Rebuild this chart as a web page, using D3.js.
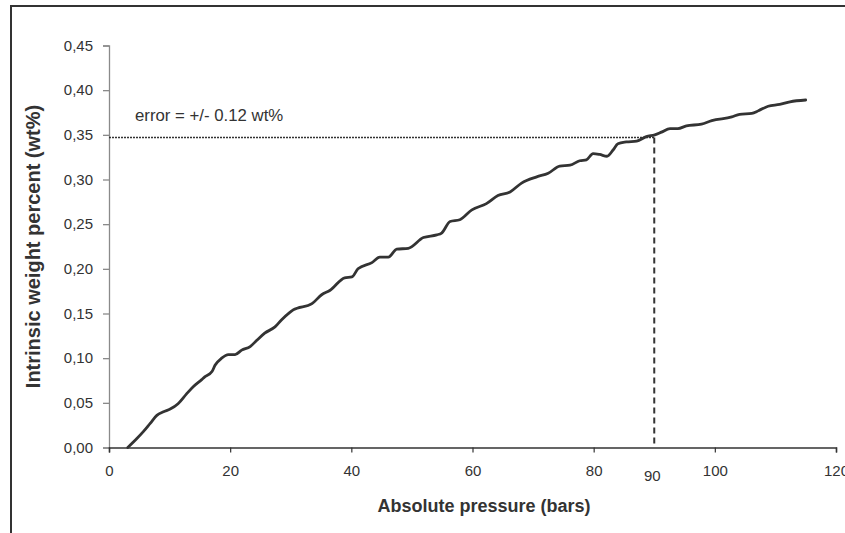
<!DOCTYPE html>
<html>
<head>
<meta charset="utf-8">
<script src="https://cdn.jsdelivr.net/npm/d3@7"></script>
<style>
  html, body { margin: 0; padding: 0; background: #fff; }
  svg { display: block; font-family: "Liberation Sans", Arial, sans-serif; }
</style>
</head>
<body>
<svg id="chart" width="845" height="533"></svg>
<script>
// ---- data ----
const pressure = [3.1, 4.6, 5.7, 6.8, 7.9, 9.0, 10.1, 11.4, 12.8, 13.9, 15.3, 15.8, 17.0, 17.5, 18.6, 19.7, 20.8, 21.9, 23.3, 24.4, 25.7, 27.4, 28.5, 29.8, 30.4, 33.5, 35.1, 36.5, 38.9, 40.1, 41.1, 43.4, 44.7, 46.1, 47.5, 49.4, 51.9, 54.1, 54.9, 56.3, 57.9, 59.9, 62.3, 64.2, 66.2, 68.1, 70.6, 72.5, 74.4, 76.1, 77.7, 78.8, 79.9, 81.0, 82.2, 83.2, 84.0, 85.4, 87.1, 88.7, 90.1, 91.2, 92.6, 93.9, 95.3, 97.8, 99.5, 102.8, 104.1, 106.1, 107.2, 108.8, 110.7, 112.4, 115.0];
const weightPct = [0.000, 0.010, 0.018, 0.027, 0.036, 0.040, 0.043, 0.049, 0.060, 0.068, 0.076, 0.079, 0.085, 0.092, 0.100, 0.104, 0.104, 0.109, 0.113, 0.120, 0.128, 0.135, 0.143, 0.151, 0.154, 0.161, 0.171, 0.176, 0.190, 0.191, 0.200, 0.207, 0.213, 0.213, 0.222, 0.223, 0.235, 0.238, 0.240, 0.253, 0.255, 0.266, 0.273, 0.282, 0.286, 0.296, 0.303, 0.307, 0.315, 0.316, 0.321, 0.322, 0.329, 0.328, 0.326, 0.333, 0.340, 0.342, 0.343, 0.348, 0.350, 0.353, 0.357, 0.357, 0.360, 0.362, 0.366, 0.370, 0.373, 0.374, 0.377, 0.382, 0.384, 0.387, 0.389];
const xTicks = [0, 20, 40, 60, 80, 100, 120];
const yTicks = [0, 0.05, 0.10, 0.15, 0.20, 0.25, 0.30, 0.35, 0.40, 0.45];
const markerPressure = 90;
const markerWeight = 0.347;
const annotationText = "error = +/- 0.12 wt%";
const xTitle = "Absolute pressure (bars)";
const yTitle = "Intrinsic weight percent (wt%)";

// ---- layout ----
const svg = d3.select("#chart");
const mLeft = 109, mRight = 836, mTop = 45.5, mBottom = 447.5;
const x = d3.scaleLinear().domain([0, 120]).range([mLeft, mRight]);
const y = d3.scaleLinear().domain([0, 0.45]).range([mBottom, mTop]);
const ink = "#333";
const font = "'Liberation Sans', Arial, sans-serif";

// frame (top + left borders visible)
svg.append("line").attr("x1", 10).attr("x2", 845).attr("y1", 6).attr("y2", 6)
  .attr("stroke", ink).attr("stroke-width", 2);
svg.append("line").attr("x1", 11).attr("x2", 11).attr("y1", 5).attr("y2", 533)
  .attr("stroke", ink).attr("stroke-width", 2);

// y axis
const yAxis = d3.axisLeft(y).tickValues(yTicks).tickSize(6).tickPadding(10)
  .tickFormat(d => d3.format(".2f")(d).replace(".", ","));
const gy = svg.append("g").attr("transform", `translate(${mLeft},0)`).call(yAxis);
gy.select(".domain").attr("stroke", "#8a8a8a").attr("stroke-width", 1.3);
gy.selectAll(".tick line").attr("stroke", "#8a8a8a").attr("stroke-width", 1.3);
gy.selectAll(".tick text").attr("fill", ink).style("font-size", "15px").style("font-family", font);

// x axis
const xAxis = d3.axisBottom(x).tickValues(xTicks).tickSize(5).tickPadding(13)
  .tickFormat(d3.format("d"));
const gx = svg.append("g").attr("transform", `translate(0,${mBottom})`).call(xAxis);
gx.select(".domain").attr("stroke", ink).attr("stroke-width", 1.5);
gx.selectAll(".tick line").attr("stroke", ink).attr("stroke-width", 1.2);
gx.selectAll(".tick text").attr("fill", ink).style("font-size", "15px").style("font-family", font);

// marker lines
svg.append("line")
  .attr("x1", x(0)).attr("x2", x(markerPressure))
  .attr("y1", y(markerWeight)).attr("y2", y(markerWeight))
  .attr("stroke", ink).attr("stroke-width", 1.6).attr("stroke-dasharray", "2,1");
svg.append("line")
  .attr("x1", x(markerPressure)).attr("x2", x(markerPressure))
  .attr("y1", y(markerWeight)).attr("y2", y(0))
  .attr("stroke", ink).attr("stroke-width", 2).attr("stroke-dasharray", "6,4");

// data line
const line = d3.line().x((d, i) => x(pressure[i])).y(d => y(d)).curve(d3.curveMonotoneX);
svg.append("path").datum(weightPct)
  .attr("d", line).attr("fill", "none").attr("stroke", ink)
  .attr("stroke-width", 2.8).attr("stroke-linejoin", "round").attr("stroke-linecap", "round");

// annotations
svg.append("text").attr("x", x(markerPressure) - 2).attr("y", y(0) + 33)
  .attr("text-anchor", "middle").attr("fill", ink).style("font-size", "15px").style("font-family", font)
  .text(markerPressure);
svg.append("text").attr("x", 135).attr("y", 121)
  .attr("fill", ink).style("font-size", "16.8px").style("font-family", font).text(annotationText);

// titles
svg.append("text").attr("x", 484).attr("y", 512)
  .attr("text-anchor", "middle").attr("fill", ink).style("font-family", font)
  .style("font-size", "18px").style("font-weight", "bold").text(xTitle);
svg.append("text").attr("transform", `translate(40,${(mTop + mBottom) / 2}) rotate(-90)`)
  .attr("text-anchor", "middle").attr("fill", ink).style("font-family", font)
  .style("font-size", "20px").style("font-weight", "bold").text(yTitle);
</script>
</body>
</html>
